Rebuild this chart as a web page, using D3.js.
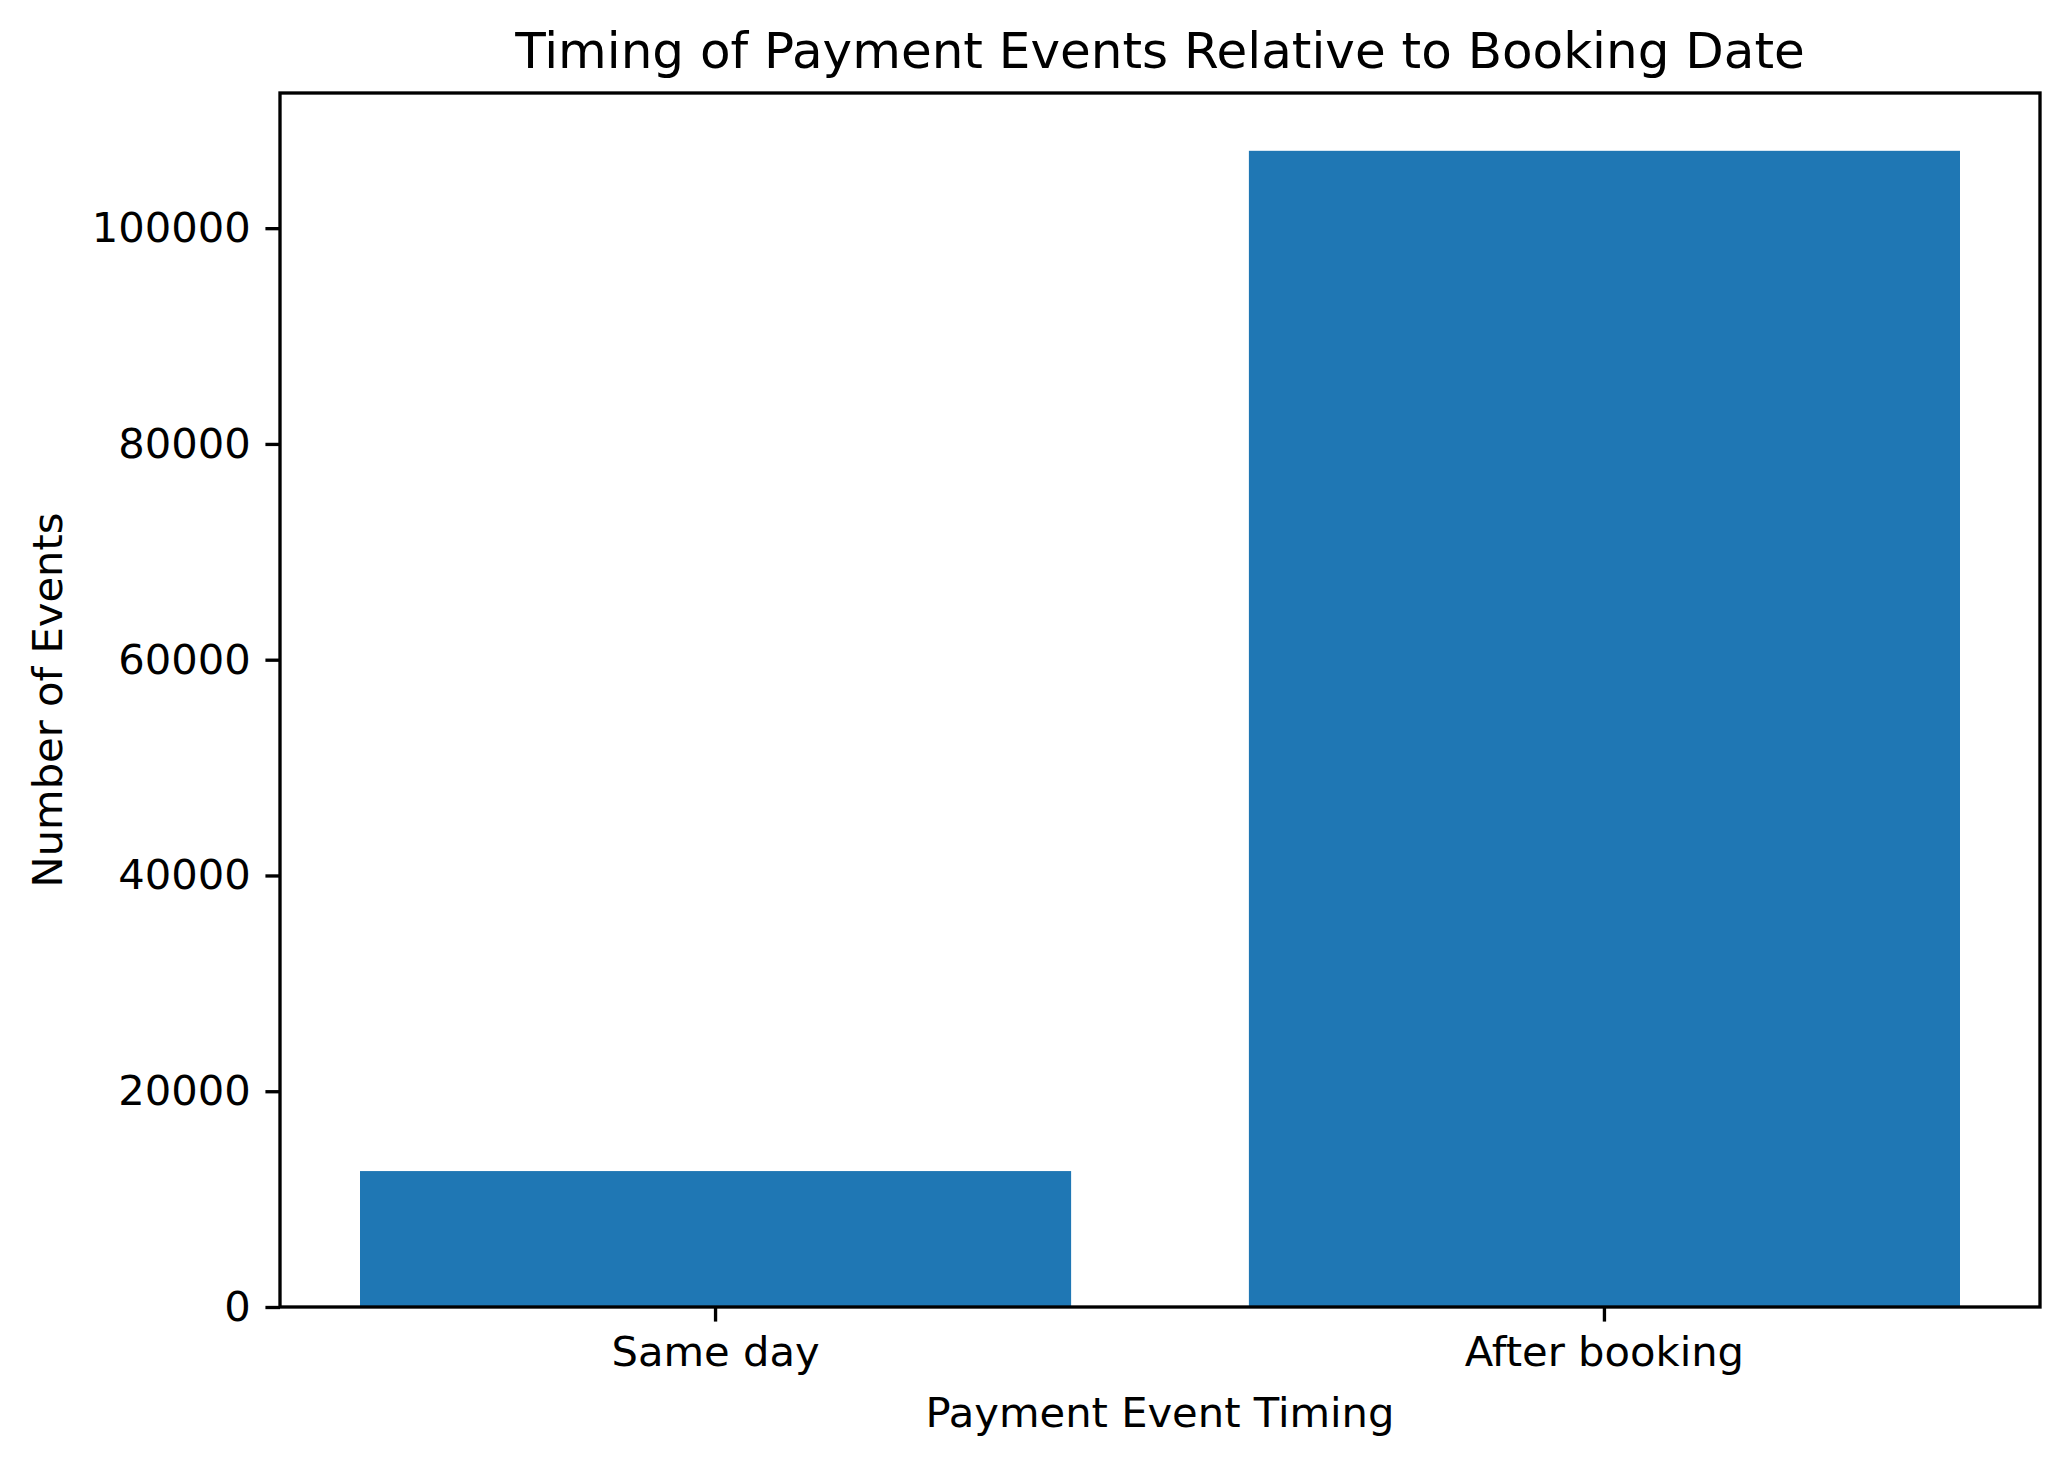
<!DOCTYPE html>
<head>
    <style>
        body { margin: 0; background: #fff; }
        svg { display: block; font-family: "DejaVu Sans", sans-serif; }
        .bar { fill: #1f77b4; }
    </style>
</head>
<body>
    <script src="https://d3js.org/d3.v7.min.js"></script>
    <script>
        const w = 2069, h = 1467;
        const margin = {top: 93, right: 29, bottom: 160, left: 280};

        // data
        const categories = ['Same day', 'After booking'];
        const counts = [12600, 107170];
        const yTicks = [0, 20000, 40000, 60000, 80000, 100000];

        const pt = 300 / 72;   // figure was saved at 300 dpi
        const tickLen = 3.5 * pt, tickPad = 3.5 * pt;

        const iw = w - margin.left - margin.right,
              ih = h - margin.top - margin.bottom;

        const svg = d3.select('body')
                      .append('svg')
                      .attr('width', w)
                      .attr('height', h);

        const g = svg.append('g')
                     .attr('transform', `translate(${margin.left},${margin.top})`);

        const x = d3.scaleBand()
                    .domain(categories)
                    .range([0, iw])
                    .paddingInner(0.2)
                    .paddingOuter(0.09);

        const y = d3.scaleLinear()
                    .domain([0, d3.max(counts) * 1.05])
                    .range([ih, 0]);

        g.selectAll('rect.bar')
         .data(categories)
         .enter()
         .append('rect')
         .attr('class', 'bar')
         .attr('x', d => x(d))
         .attr('width', x.bandwidth())
         .attr('y', (d, i) => y(counts[i]))
         .attr('height', (d, i) => ih - y(counts[i]));

        const xAxis = g.append('g')
                       .attr('transform', `translate(0,${ih})`)
                       .call(d3.axisBottom(x).tickSize(tickLen).tickPadding(tickPad));
        const yAxis = g.append('g')
                       .call(d3.axisLeft(y).tickValues(yTicks).tickFormat(d3.format('d'))
                                          .tickSize(tickLen).tickPadding(tickPad));

        [xAxis, yAxis].forEach(a => {
            a.select('.domain').remove();
            a.selectAll('.tick line').attr('stroke', '#000').attr('stroke-width', 0.8 * pt);
            a.selectAll('.tick text')
             .attr('fill', '#000')
             .style('font-family', '"DejaVu Sans", sans-serif')
             .style('font-size', (10 * pt) + 'px');
        });

        // frame
        g.append('rect')
         .attr('width', iw)
         .attr('height', ih)
         .attr('fill', 'none')
         .attr('stroke', '#000')
         .attr('stroke-width', 0.8 * pt)
         .attr('stroke-linecap', 'square');

        svg.append('text')
           .attr('x', margin.left + iw / 2)
           .attr('y', 68)
           .attr('text-anchor', 'middle')
           .style('font-size', (12 * pt) + 'px')
           .text('Timing of Payment Events Relative to Booking Date');

        svg.append('text')
           .attr('x', margin.left + iw / 2)
           .attr('y', 1427)
           .attr('text-anchor', 'middle')
           .style('font-size', (10 * pt) + 'px')
           .text('Payment Event Timing');

        svg.append('text')
           .attr('transform', `translate(62,${margin.top + ih / 2}) rotate(-90)`)
           .attr('text-anchor', 'middle')
           .style('font-size', (10 * pt) + 'px')
           .text('Number of Events');
    </script>
</body>
